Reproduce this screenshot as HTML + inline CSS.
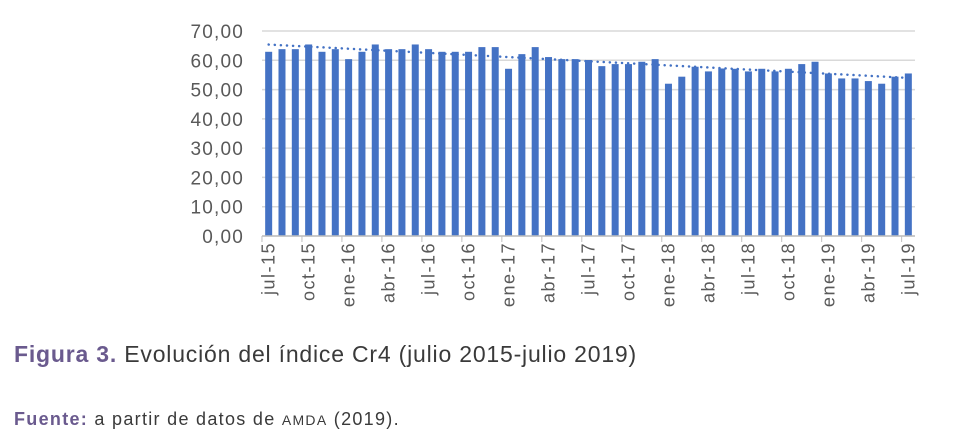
<!DOCTYPE html>
<html><head><meta charset="utf-8"><style>
body{margin:0;width:977px;height:438px;background:#fff;font-family:"Liberation Sans",sans-serif;overflow:hidden}
svg{position:absolute;left:0;top:0}
.cap{position:absolute;left:14px;top:341px;font-size:23px;letter-spacing:0.8px;color:#3a3a3a;white-space:nowrap}
.cap b{color:#6a5a8e;font-weight:bold}
.src{position:absolute;left:14px;top:409px;font-size:18px;letter-spacing:1.3px;color:#3a3a3a;white-space:nowrap}
.src b{color:#6a5a8e}
</style></head><body>
<svg width="977" height="340" id="chart"></svg>
<div class="cap"><b>Figura 3.</b> Evolución del índice Cr4 (julio 2015-julio 2019)</div>
<div class="src"><b>Fuente:</b> a partir de datos de <span style="font-size:14px">AMDA</span> (2019).</div>
<script>
const values=[62.9,63.8,63.8,65.4,62.9,63.8,60.4,62.9,65.4,63.8,63.8,65.4,63.8,62.9,62.9,62.9,64.5,64.5,57.1,62.1,64.5,61.1,60.4,60.4,60.1,58.0,58.7,58.7,59.5,60.4,52.0,54.4,57.8,56.2,57.2,57.1,56.2,57.1,56.2,57.1,58.7,59.5,55.5,53.8,53.8,52.9,52.0,54.4,55.5];
const yTicks=[0,10,20,30,40,50,60,70];
const xLabels=["jul-15","oct-15","ene-16","abr-16","jul-16","oct-16","ene-17","abr-17","jul-17","oct-17","ene-18","abr-18","jul-18","oct-18","ene-19","abr-19","jul-19"];
const NS="http://www.w3.org/2000/svg",svg=document.getElementById('chart');
const x0=262,x1=915,y0=236,y70=31;
const y=v=>y0-(v/70)*(y0-y70);
const step=(x1-x0)/values.length;
const x=i=>x0+step*(i+0.5);
function mk(t,a){const e=document.createElementNS(NS,t);for(const k in a)e.setAttribute(k,a[k]);svg.appendChild(e);return e;}
yTicks.forEach(t=>{
 const l=mk('line',{x1:x0,x2:x1,y1:y(t),y2:y(t),stroke:'#d9d9d9','stroke-width':1.5});
 
 
 const tx=mk('text',{x:244,y:y(t)+7,'text-anchor':'end','font-size':19,'letter-spacing':1.2,fill:'#595959','font-family':'Liberation Sans'});
 tx.textContent=t.toFixed(2).replace('.',',');
 
 
});
values.forEach((v,i)=>{
 const r=mk('rect',{x:x(i)-3.5,y:y(v),width:7,height:y0-y(v),fill:'#4472c4'});
 
 
});
const n=values.length;let sx=0,sy=0,sxy=0,sxx=0;
values.forEach((v,i)=>{sx+=i;sy+=v;sxy+=i*v;sxx+=i*i;});
const b=(n*sxy-sx*sy)/(n*sxx-sx*sx),a=(sy-b*sx)/n;
const tl=mk('line',{x1:x(0),y1:y(a),x2:x(n-1),y2:y(a+b*(n-1)),stroke:'#4472c4','stroke-width':2.5,'stroke-dasharray':'0.1 6','stroke-linecap':'round'});


const ax=mk('line',{x1:x0,x2:x1,y1:y0,y2:y0,stroke:'#bfbfbf','stroke-width':1.5});


xLabels.forEach((s,k)=>{
 const i=k*3,xx=x(i);
 const tk=mk('line',{x1:xx-6.7,x2:xx-6.7,y1:y0,y2:y0+6,stroke:'#bfbfbf'});
 
 
 const t=mk('text',{x:0,y:0,'text-anchor':'end','font-size':18,'letter-spacing':1.5,fill:'#595959','font-family':'Liberation Sans',transform:`translate(${xx+6},${y0+6}) rotate(-90)`});
 t.textContent=s;
 
 
});
</script>
</body></html>
